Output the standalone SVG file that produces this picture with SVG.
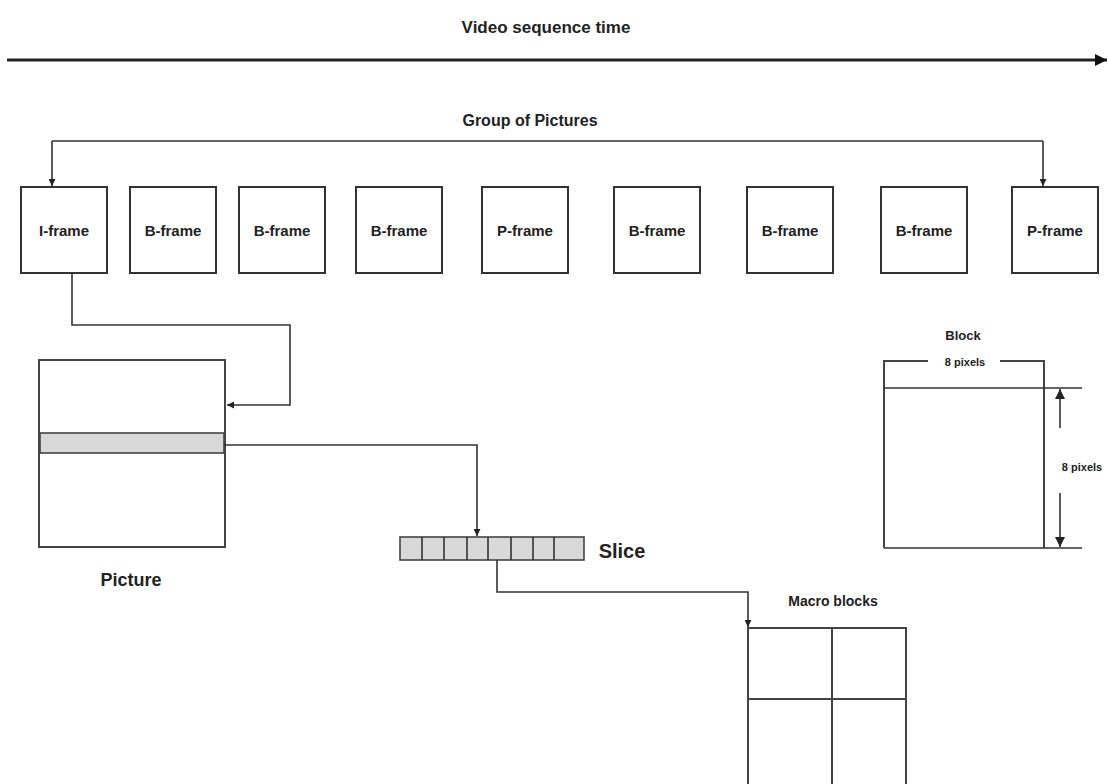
<svg xmlns="http://www.w3.org/2000/svg" width="1108" height="784" viewBox="0 0 1108 784">
  <style>
    .lbl { font-family: "Liberation Sans", Arial, sans-serif; font-weight: bold; fill: #222; text-anchor: middle; }
    .frame rect { fill: #fff; stroke: #333; stroke-width: 2; }
    .frame text { font-size: 15px; }
    .wire { fill: none; stroke: #333; stroke-width: 1.6; }
    .box { fill: none; stroke: #444; stroke-width: 2; }
    .cell { fill: #d9d9d9; stroke: #444; stroke-width: 1.6; }
  </style>
  <defs>
    <marker id="tri" viewBox="0 0 10 10" refX="10" refY="5" markerWidth="7" markerHeight="7" markerUnits="userSpaceOnUse" orient="auto">
      <path d="M0,0 L10,5 L0,10 z" fill="#222"/>
    </marker>
    <marker id="triBig" viewBox="0 0 10 10" refX="10" refY="5" markerWidth="12" markerHeight="12" markerUnits="userSpaceOnUse" orient="auto">
      <path d="M0,0 L10,5 L0,10 z" fill="#111"/>
    </marker>
    <marker id="triMid" viewBox="0 0 10 10" refX="10" refY="5" markerWidth="10" markerHeight="10" markerUnits="userSpaceOnUse" orient="auto">
      <path d="M0,0 L10,5 L0,10 z" fill="#222"/>
    </marker>
  </defs>

  <!-- timeline -->
  <g id="timeline">
    <text class="lbl" x="546" y="33" font-size="17">Video sequence time</text>
    <line x1="7" y1="60" x2="1107" y2="60" stroke="#222" stroke-width="3" marker-end="url(#triBig)"/>
  </g>

  <!-- group of pictures label -->
  <g id="gop-label">
    <text class="lbl" x="530" y="126" font-size="16">Group of Pictures</text>
  </g>

  <!-- frames -->
  <g id="frame-i" class="frame"><rect x="21" y="187" width="86" height="86"/><text class="lbl" x="64" y="236">I-frame</text></g>
  <g id="frame-b1" class="frame"><rect x="130" y="187" width="86" height="86"/><text class="lbl" x="173" y="236">B-frame</text></g>
  <g id="frame-b2" class="frame"><rect x="239" y="187" width="86" height="86"/><text class="lbl" x="282" y="236">B-frame</text></g>
  <g id="frame-b3" class="frame"><rect x="356" y="187" width="86" height="86"/><text class="lbl" x="399" y="236">B-frame</text></g>
  <g id="frame-p1" class="frame"><rect x="482" y="187" width="86" height="86"/><text class="lbl" x="525" y="236">P-frame</text></g>
  <g id="frame-b4" class="frame"><rect x="614" y="187" width="86" height="86"/><text class="lbl" x="657" y="236">B-frame</text></g>
  <g id="frame-b5" class="frame"><rect x="747" y="187" width="86" height="86"/><text class="lbl" x="790" y="236">B-frame</text></g>
  <g id="frame-b6" class="frame"><rect x="881" y="187" width="86" height="86"/><text class="lbl" x="924" y="236">B-frame</text></g>
  <g id="frame-p2" class="frame"><rect x="1012" y="187" width="86" height="86"/><text class="lbl" x="1055" y="236">P-frame</text></g>

  <!-- picture with highlighted slice row -->
  <g id="picture">
    <rect class="box" x="39" y="360" width="186" height="187"/>
    <rect class="cell" x="40" y="433" width="184" height="20"/>
    <text class="lbl" x="131" y="586" font-size="18">Picture</text>
  </g>

  <!-- slice of macroblocks -->
  <g id="slice">
    <rect class="cell" x="400" y="537" width="184" height="23"/>
    <path class="wire" d="M422,537 V560 M444,537 V560 M467,537 V560 M488,537 V560 M511,537 V560 M533,537 V560 M554,537 V560"/>
    <text class="lbl" x="622" y="558" font-size="20">Slice</text>
  </g>

  <!-- macroblock grid -->
  <g id="macroblocks">
    <text class="lbl" x="833" y="606" font-size="14">Macro blocks</text>
    <rect class="box" x="748" y="628" width="158" height="200"/>
    <path class="box" d="M832,628 V790 M748,699 H906"/>
  </g>

  <!-- single block with dimensions -->
  <g id="block">
    <text class="lbl" x="963" y="340" font-size="13">Block</text>
    <path class="box" d="M884,548 V361 H928 M1000,361 H1044 V548"/>
    <path class="wire" d="M884,388 H1082 M884,548 H1082"/>
    <text class="lbl" x="965" y="366" font-size="11">8 pixels</text>
    <line class="wire" x1="1060" y1="428" x2="1060" y2="389" marker-end="url(#triMid)"/>
    <line class="wire" x1="1060" y1="493" x2="1060" y2="547" marker-end="url(#triMid)"/>
    <text class="lbl" x="1082" y="471" font-size="11">8 pixels</text>
  </g>

  <!-- connectors -->
  <g id="connectors">
    <path class="wire" d="M52,141 H1043"/>
    <path class="wire" d="M52,141 V186" marker-end="url(#tri)"/>
    <path class="wire" d="M1043,141 V186" marker-end="url(#tri)"/>
    <path class="wire" d="M72,273 V325 H290 V405 H227" marker-end="url(#tri)"/>
    <path class="wire" d="M224,445 H477 V536" marker-end="url(#tri)"/>
    <path class="wire" d="M497,560 V592 H748 V627" marker-end="url(#tri)"/>
  </g>
</svg>
